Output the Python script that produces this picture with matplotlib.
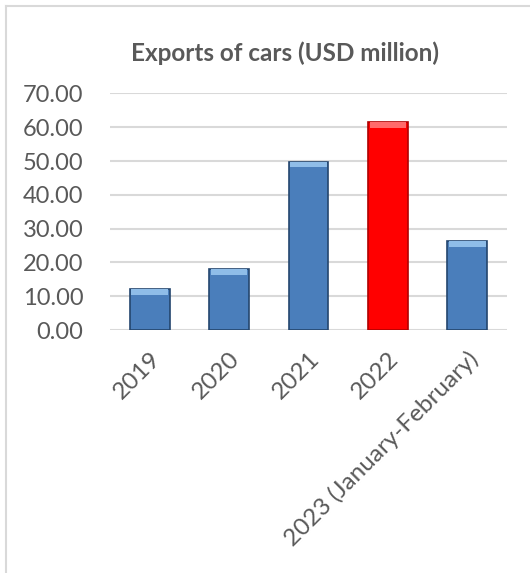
import matplotlib
matplotlib.use('Agg')
import matplotlib.pyplot as plt
from matplotlib.lines import Line2D

# Values
years = ['2019', '2020', '2021', '2022', '2023 (January-February)']
exports = [12.1, 18.0, 49.8, 61.4, 26.3]
bar_colors = ['#4a7ebb', '#4a7ebb', '#4a7ebb', '#ff0000', '#4a7ebb']
edge_colors = ['#24466e', '#24466e', '#24466e', '#b00000', '#24466e']
top_colors = ['#8fbde8', '#8fbde8', '#8fbde8', '#ff6a6a', '#8fbde8']
yticks = [0, 10, 20, 30, 40, 50, 60, 70]

plt.rcParams['font.family'] = ['Lato', 'DejaVu Sans']

fig = plt.figure(figsize=(5.3, 5.73), dpi=100)
ax = fig.add_axes([0.2075, 0.424, 0.749, 0.413])

x = range(len(years))
ax.bar(x, exports, width=0.5, color=bar_colors, edgecolor=edge_colors, linewidth=1.2, zorder=3)
# lighter bevel at the top of each bar
bevel = [min(v, 1.6) for v in exports]
ax.bar(x, bevel, bottom=[v - b for v, b in zip(exports, bevel)], width=0.46,
       color=top_colors, linewidth=0, zorder=4)

ax.set_xlim(-0.5, len(years) - 0.5)
ax.set_ylim(0, 70)
ax.set_yticks(yticks)
ax.set_yticklabels([f'{t:.2f}' for t in yticks])
ax.yaxis.grid(True, color='#d9d9d9', linewidth=1.5, zorder=0)
ax.set_axisbelow(True)
for s in ax.spines.values():
    s.set_visible(False)
ax.tick_params(axis='y', length=0, pad=19, labelsize=17, labelcolor='#595959')
ax.tick_params(axis='x', length=0, pad=13, labelsize=17.5, labelcolor='#595959')
ax.set_xticks(list(x))
ax.set_xticklabels(years, rotation=45, ha='right', rotation_mode='anchor')

fig.text(0.538, 0.907, 'Exports of cars (USD million)', ha='center', va='center',
         fontsize=17.5, fontweight='bold', color='#595959')

# chart frame (partly cut off at right and bottom in the reference)
fig.add_artist(Line2D([0.012, 1.0], [0.989, 0.989], color='#d9d9d9', linewidth=1.5))
fig.add_artist(Line2D([0.012, 0.012], [0.0, 0.989], color='#d9d9d9', linewidth=1.5))

fig.savefig('out.png', dpi=100)
